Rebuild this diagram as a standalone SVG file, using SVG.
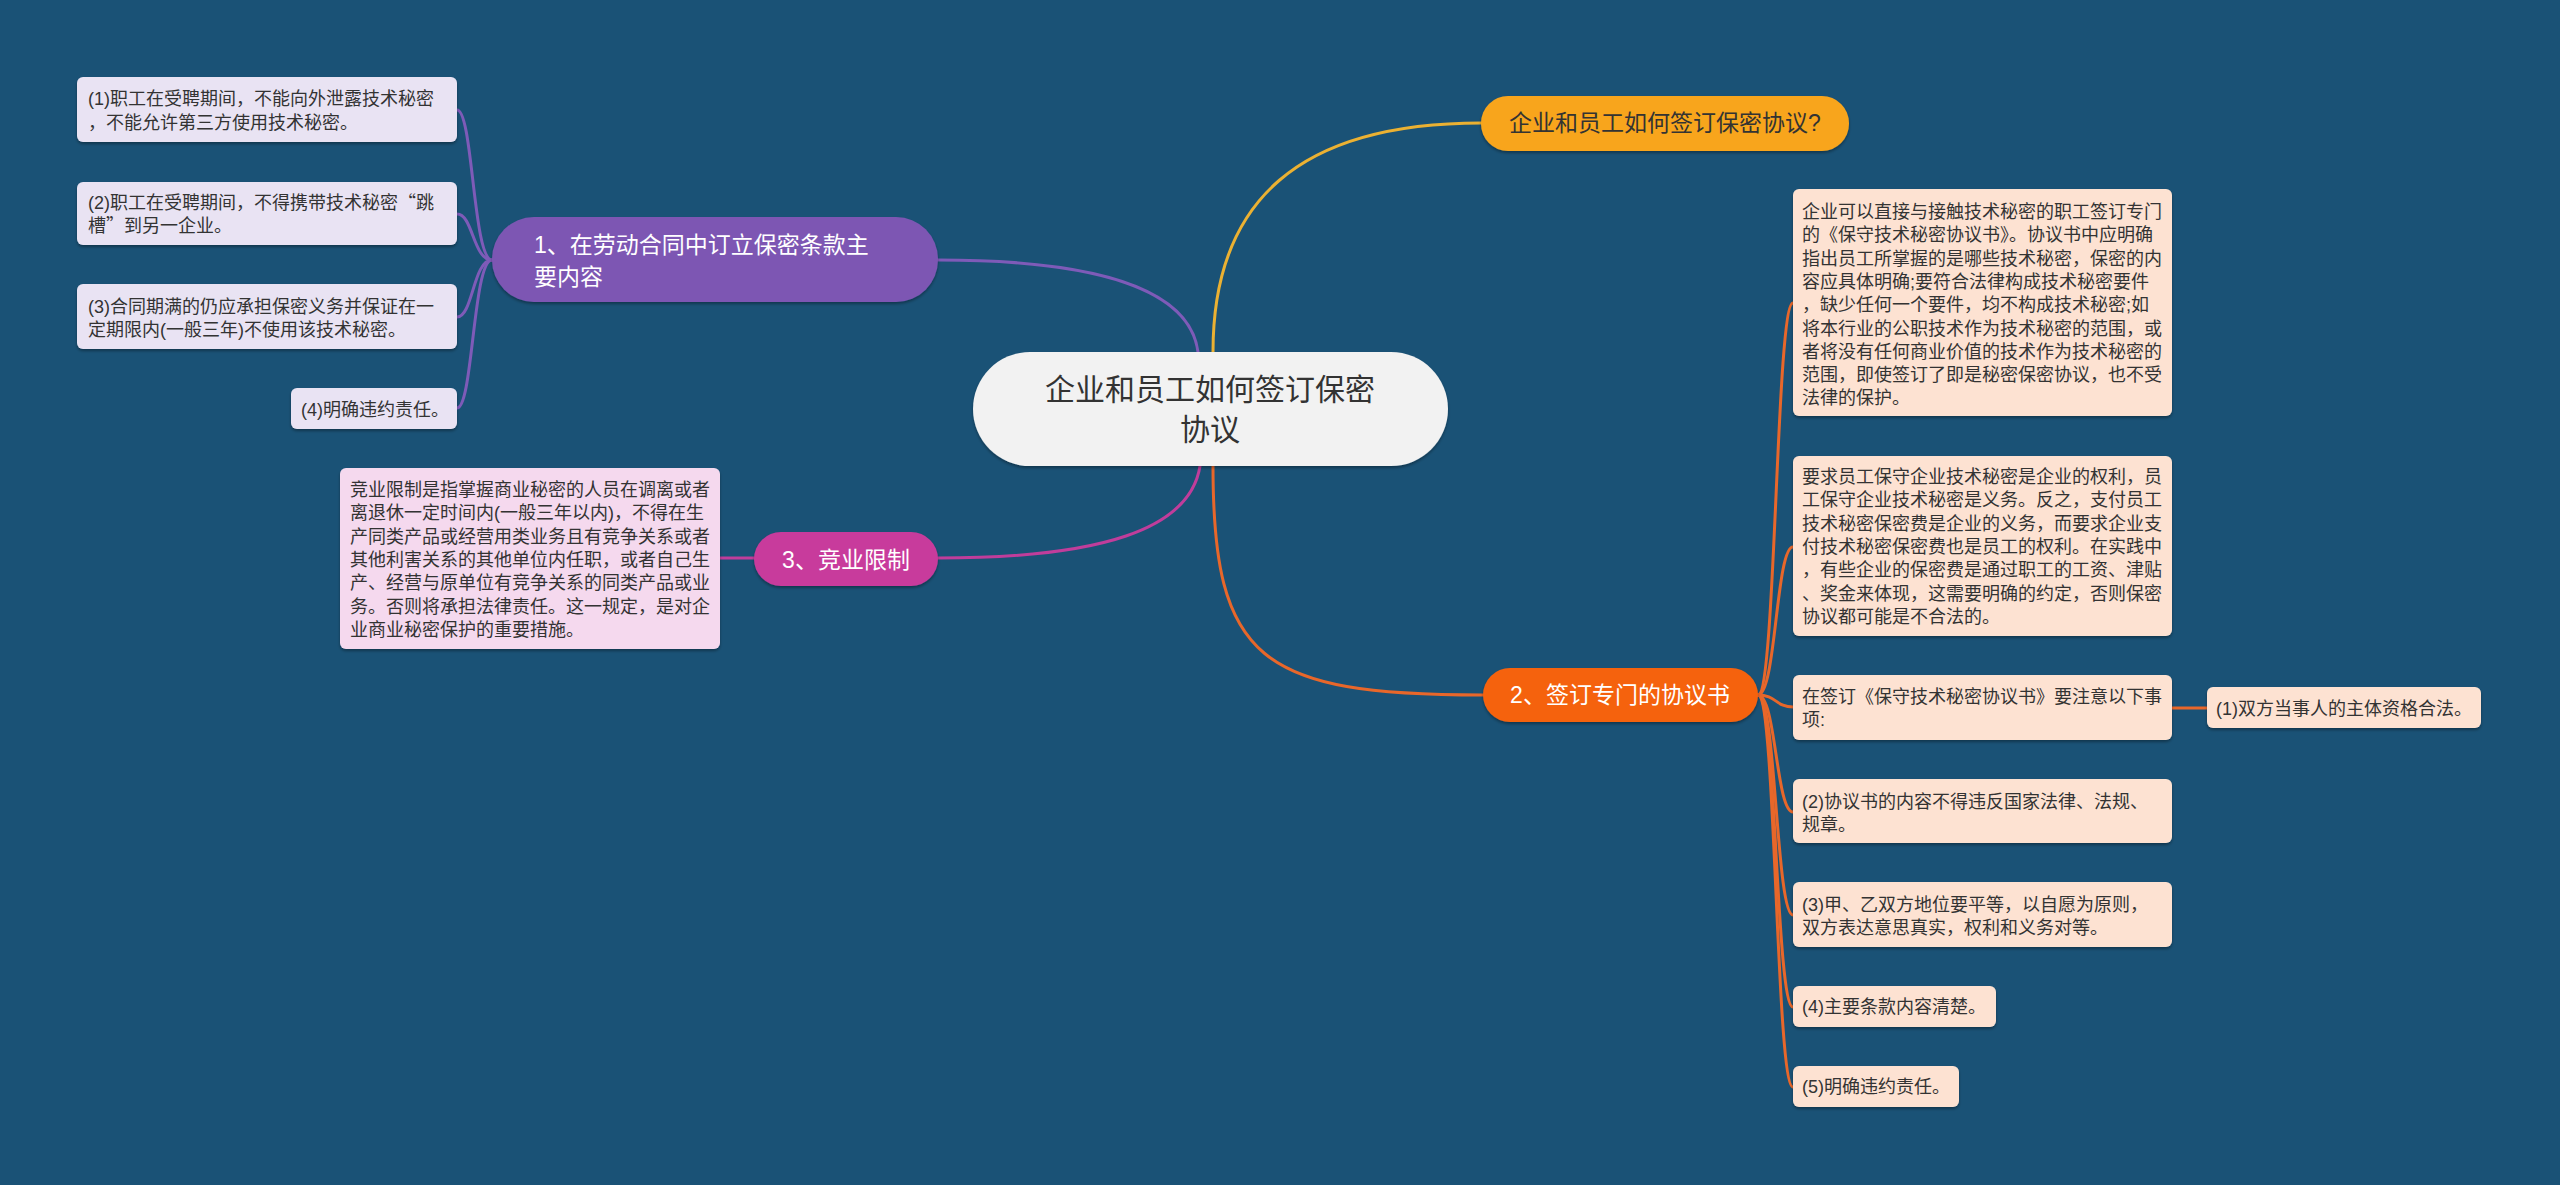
<svg xmlns="http://www.w3.org/2000/svg" width="2560" height="1185" viewBox="0 0 2560 1185">
<defs>
<filter id="sh" x="-5%" y="-10%" width="110%" height="130%">
<feDropShadow dx="0" dy="2" stdDeviation="1.5" flood-color="#000" flood-opacity="0.35"/>
</filter>
<style>
text{font-family:"Liberation Sans","Noto Sans CJK SC",sans-serif;}
.cjk{font-family:"Noto Sans CJK SC",sans-serif;}
.sm{font-size:18px;fill:#333;}
.l1{font-size:23px;fill:#fff;}
.l1d{font-size:23px;fill:#333;}
.ctr{font-size:30px;fill:#333;}
.lav{fill:#e9e3f3;filter:url(#sh);}
.pnk{fill:#f5d9ee;filter:url(#sh);}
.pch{fill:#fde2d2;filter:url(#sh);}
.c{fill:none;stroke-width:3;stroke-linecap:round;}
.cp{stroke:#7e5bb8;}
.cy{stroke:#ebb132;}
.co{stroke:#e8672a;}
.cm{stroke:#c03d9b;}
</style>
</defs>
<rect x="0" y="0" width="2560" height="1185" fill="#1a5276"/>

<g id="connectors">
<path class="c cp" d="M938,260 C1100,260 1190,290 1198,352"/>
<path class="c cy" d="M1213,352 C1213,200 1300,123 1481,123"/>
<path class="c co" d="M1213,466 C1213,660 1260,695 1483,695"/>
<path class="c cm" d="M1200,466 C1190,530 1100,558 938,558"/>
<path class="c cm" d="M754,558 L720,558"/>
<path class="c cp" d="M492,260 C473,260 473,110 457,110"/>
<path class="c cp" d="M492,260 C473,260 473,214 457,214"/>
<path class="c cp" d="M492,260 C473,260 473,317 457,317"/>
<path class="c cp" d="M492,260 C473,260 473,408 457,408"/>
<path class="c co" d="M1758,695 C1776,695 1776,303 1793,303"/>
<path class="c co" d="M1758,695 C1776,695 1776,547 1793,547"/>
<path class="c co" d="M1758,695 C1776,695 1776,707 1793,707"/>
<path class="c co" d="M1758,695 C1776,695 1776,812 1793,812"/>
<path class="c co" d="M1758,695 C1776,695 1776,915 1793,915"/>
<path class="c co" d="M1758,695 C1776,695 1776,1007 1793,1007"/>
<path class="c co" d="M1758,695 C1776,695 1776,1087 1793,1087"/>
<path class="c co" d="M2172,708 L2207,708"/>
</g>

<g id="center">
<rect x="973" y="352" width="475" height="114" rx="57" fill="#f2f2f2" filter="url(#sh)"/>
<text class="ctr" x="1210" y="400" text-anchor="middle">企业和员工如何签订保密</text>
<text class="ctr" x="1210" y="440" text-anchor="middle">协议</text>
</g>

<g id="n-q">
<rect x="1481" y="96" width="368" height="55" rx="27" fill="#f8a51e" filter="url(#sh)"/>
<text class="l1d" x="1665" y="131" text-anchor="middle">企业和员工如何签订保密协议?</text>
</g>

<g id="n1">
<rect x="492" y="217" width="446" height="85" rx="42" fill="#7d57b3" filter="url(#sh)"/>
<text class="l1" x="534" y="253">1、在劳动合同中订立保密条款主</text>
<text class="l1" x="534" y="285">要内容</text>
</g>

<g id="n1-1">
<rect class="lav" x="77" y="77" width="380" height="65" rx="6"/>
<text class="sm" x="88" y="105">(1)职工在受聘期间，不能向外泄露技术秘密</text>
<text class="sm" x="88" y="129">，不能允许第三方使用技术秘密。</text>
</g>
<g id="n1-2">
<rect class="lav" x="77" y="182" width="380" height="63" rx="6"/>
<text class="sm" x="88" y="209">(2)职工在受聘期间，不得携带技术秘密<tspan class="cjk">“</tspan>跳</text>
<text class="sm" x="88" y="232">槽<tspan class="cjk">”</tspan>到另一企业。</text>
</g>
<g id="n1-3">
<rect class="lav" x="77" y="284" width="380" height="65" rx="6"/>
<text class="sm" x="88" y="313">(3)合同期满的仍应承担保密义务并保证在一</text>
<text class="sm" x="88" y="336">定期限内(一般三年)不使用该技术秘密。</text>
</g>
<g id="n1-4">
<rect class="lav" x="291" y="388" width="166" height="41" rx="6"/>
<text class="sm" x="301" y="416">(4)明确违约责任。</text>
</g>

<g id="n3">
<rect x="754" y="532" width="184" height="54" rx="27" fill="#c83b9c" filter="url(#sh)"/>
<text class="l1" x="846" y="568" text-anchor="middle">3、竞业限制</text>
</g>
<g id="n3-1">
<rect class="pnk" x="340" y="468" width="380" height="181" rx="6"/>
<text class="sm" x="350" y="496">竞业限制是指掌握商业秘密的人员在调离或者</text>
<text class="sm" x="350" y="519.3">离退休一定时间内(一般三年以内)，不得在生</text>
<text class="sm" x="350" y="542.6">产同类产品或经营用类业务且有竞争关系或者</text>
<text class="sm" x="350" y="565.9">其他利害关系的其他单位内任职，或者自己生</text>
<text class="sm" x="350" y="589.2">产、经营与原单位有竞争关系的同类产品或业</text>
<text class="sm" x="350" y="612.5">务。否则将承担法律责任。这一规定，是对企</text>
<text class="sm" x="350" y="635.8">业商业秘密保护的重要措施。</text>
</g>

<g id="n2">
<rect x="1483" y="668" width="275" height="54" rx="27" fill="#f5620f" filter="url(#sh)"/>
<text class="l1" x="1620" y="703" text-anchor="middle">2、签订专门的协议书</text>
</g>
<g id="n2-a">
<rect class="pch" x="1793" y="189" width="379" height="227" rx="6"/>
<text class="sm" x="1802" y="218">企业可以直接与接触技术秘密的职工签订专门</text>
<text class="sm" x="1802" y="241.3">的《保守技术秘密协议书》。协议书中应明确</text>
<text class="sm" x="1802" y="264.6">指出员工所掌握的是哪些技术秘密，保密的内</text>
<text class="sm" x="1802" y="287.9">容应具体明确;要符合法律构成技术秘密要件</text>
<text class="sm" x="1802" y="311.2">，缺少任何一个要件，均不构成技术秘密;如</text>
<text class="sm" x="1802" y="334.5">将本行业的公职技术作为技术秘密的范围，或</text>
<text class="sm" x="1802" y="357.8">者将没有任何商业价值的技术作为技术秘密的</text>
<text class="sm" x="1802" y="381.1">范围，即使签订了即是秘密保密协议，也不受</text>
<text class="sm" x="1802" y="404.4">法律的保护。</text>
</g>
<g id="n2-b">
<rect class="pch" x="1793" y="456" width="379" height="180" rx="6"/>
<text class="sm" x="1802" y="483">要求员工保守企业技术秘密是企业的权利，员</text>
<text class="sm" x="1802" y="506.3">工保守企业技术秘密是义务。反之，支付员工</text>
<text class="sm" x="1802" y="529.6">技术秘密保密费是企业的义务，而要求企业支</text>
<text class="sm" x="1802" y="552.9">付技术秘密保密费也是员工的权利。在实践中</text>
<text class="sm" x="1802" y="576.2">，有些企业的保密费是通过职工的工资、津贴</text>
<text class="sm" x="1802" y="599.5">、奖金来体现，这需要明确的约定，否则保密</text>
<text class="sm" x="1802" y="622.8">协议都可能是不合法的。</text>
</g>
<g id="n2-c">
<rect class="pch" x="1793" y="675" width="379" height="65" rx="6"/>
<text class="sm" x="1802" y="703">在签订《保守技术秘密协议书》要注意以下事</text>
<text class="sm" x="1802" y="726">项:</text>
</g>
<g id="n2-c1">
<rect class="pch" x="2207" y="687" width="274" height="41" rx="6"/>
<text class="sm" x="2216" y="715">(1)双方当事人的主体资格合法。</text>
</g>
<g id="n2-d">
<rect class="pch" x="1793" y="779" width="379" height="64" rx="6"/>
<text class="sm" x="1802" y="808">(2)协议书的内容不得违反国家法律、法规、</text>
<text class="sm" x="1802" y="831">规章。</text>
</g>
<g id="n2-e">
<rect class="pch" x="1793" y="882" width="379" height="65" rx="6"/>
<text class="sm" x="1802" y="911">(3)甲、乙双方地位要平等，以自愿为原则，</text>
<text class="sm" x="1802" y="934">双方表达意思真实，权利和义务对等。</text>
</g>
<g id="n2-f">
<rect class="pch" x="1793" y="986" width="203" height="41" rx="6"/>
<text class="sm" x="1802" y="1013">(4)主要条款内容清楚。</text>
</g>
<g id="n2-g">
<rect class="pch" x="1793" y="1066" width="166" height="41" rx="6"/>
<text class="sm" x="1802" y="1093">(5)明确违约责任。</text>
</g>
</svg>
